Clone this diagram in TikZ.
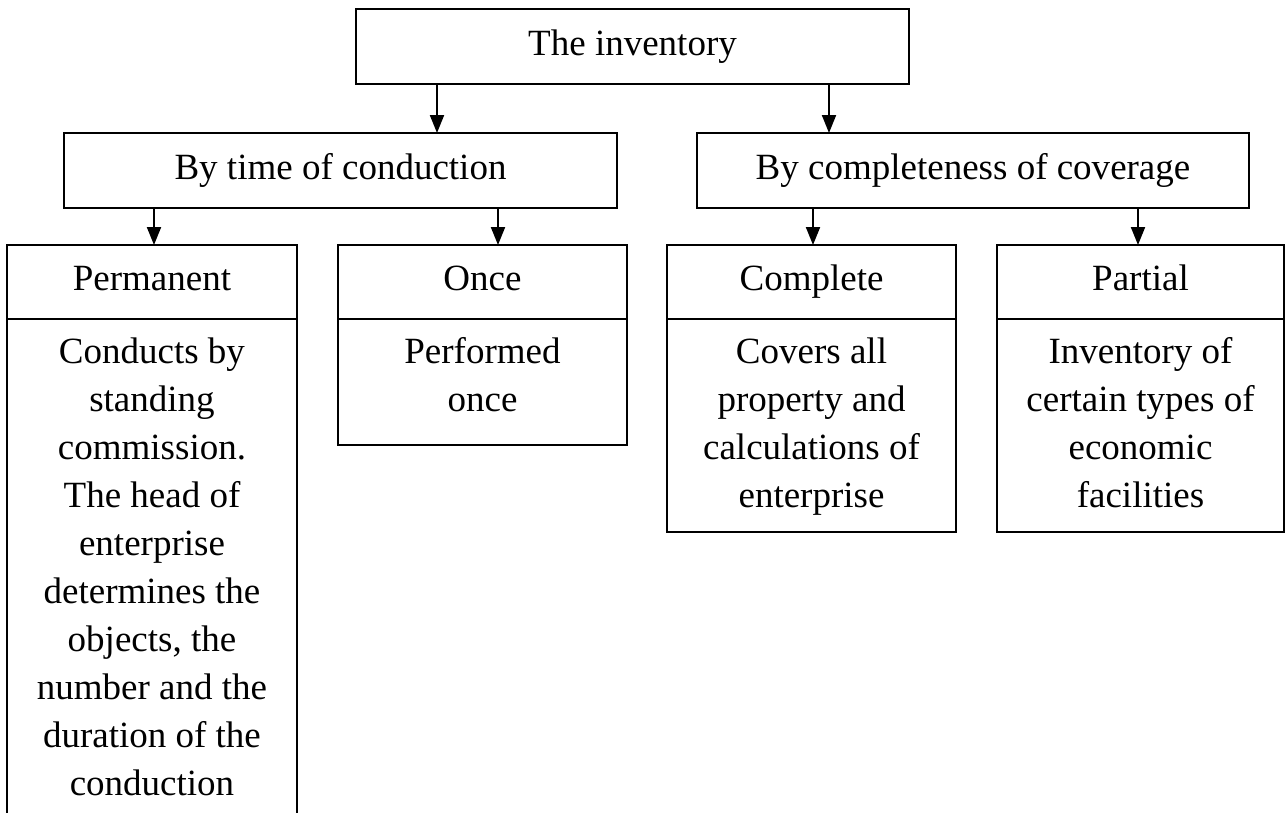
\documentclass[tikz,border=0pt]{standalone}
\usepackage{fontspec}
\setmainfont{Liberation Serif}
\usetikzlibrary{arrows.meta}

\tikzset{
  box/.style={draw=black, line width=2pt, rectangle, inner sep=0pt, outer sep=0pt,
              align=center, font=\fontsize{37}{48}\selectfont},
  line1/.style={text height=26pt, text depth=9pt},
  wide/.style={box, line1, minimum width=553pt, minimum height=75pt},
  head/.style={box, line1, minimum width=289pt, minimum height=74pt},
  panel/.style={box, anchor=north, minimum width=289pt},
  desc/.style={anchor=north, inner sep=0pt, align=center,
               font=\fontsize{37}{48}\selectfont},
  arr/.style={line width=2pt, -{Triangle[length=18pt, width=14pt]}}
}
\newcommand{\firstline}{\rule{0pt}{26pt}}

\begin{document}
\begin{tikzpicture}[x=1pt, y=-1pt]
  \useasboundingbox[fill=white] (0,0) rectangle (1285,812);

  % top level
  \node[wide] (inv) at (632.5,46.5) {The inventory};

  % classification criteria
  \node[wide] (time)  at (340.5,170.5) {By time of conduction};
  \node[wide, minimum width=552pt] (cover) at (973,170.5) {By completeness of coverage};

  % kinds of inventory (headers)
  \node[head, minimum width=290pt] (perm) at (152,282)   {Permanent};
  \node[head] (once)  at (482.5,282) {Once};
  \node[head] (compl) at (811.5,282) {Complete};
  \node[head, minimum width=287pt] (part)  at (1140.5,282) {Partial};

  % frames below each header
  \node[panel, minimum width=290pt, minimum height=495pt] (permB) at (perm.south) {};
  \node[panel, minimum height=126pt] (onceB) at (once.south) {};
  \node[panel, minimum height=213pt] (complB) at (compl.south) {};
  \node[panel, minimum width=287pt, minimum height=213pt] (partB) at (part.south) {};

  % descriptions, aligned to the top of each frame
  \node[desc] (permT) at ([yshift=-18pt]permB.north)
    {\firstline Conducts by\\standing\\commission.\\The head of\\enterprise\\determines the\\objects, the\\number and the\\duration of the\\conduction};
  \node[desc] (onceT) at ([yshift=-18pt]onceB.north)
    {\firstline Performed\\once};
  \node[desc] (complT) at ([yshift=-18pt]complB.north)
    {\firstline Covers all\\property and\\calculations of\\enterprise};
  \node[desc] (partT) at ([yshift=-18pt]partB.north)
    {\firstline Inventory of\\certain types of\\economic\\facilities};

  % arrow positions
  \coordinate (xa) at (437,0);
  \coordinate (xb) at (829,0);
  \coordinate (xc) at (154,0);
  \coordinate (xd) at (498,0);
  \coordinate (xe) at (813,0);
  \coordinate (xf) at (1138,0);

  \draw[arr] (inv.south -| xa) -- (time.north -| xa);
  \draw[arr] (inv.south -| xb) -- (cover.north -| xb);
  \draw[arr] (time.south -| xc) -- (perm.north -| xc);
  \draw[arr] (time.south -| xd) -- (once.north -| xd);
  \draw[arr] (cover.south -| xe) -- (compl.north -| xe);
  \draw[arr] (cover.south -| xf) -- (part.north -| xf);
\end{tikzpicture}
\end{document}
